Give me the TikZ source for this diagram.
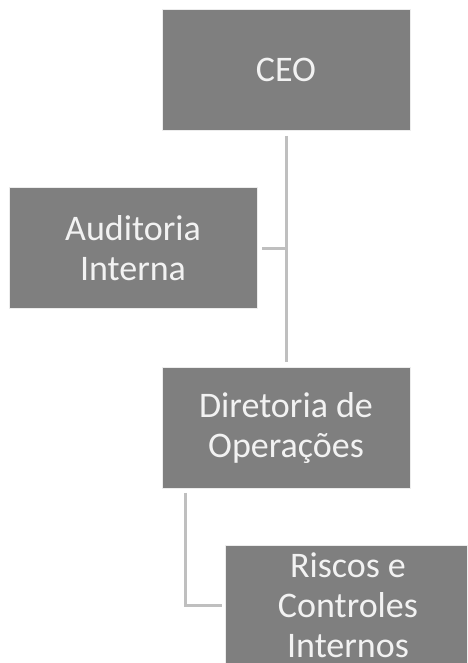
\documentclass[tikz,border=0pt]{standalone}
\usepackage{fontspec}
\setmainfont{Carlito}
\usepackage{tikz}
\usetikzlibrary{calc,positioning}
\definecolor{boxgray}{HTML}{7F7F7F}
\definecolor{linegray}{HTML}{BFBFBF}
\tikzstyle{post}=[rectangle, draw=white!85!boxgray, fill=boxgray,
                  line width=0.8pt, minimum width=248pt, minimum height=121pt,
                  inner sep=0pt, text=white!95!black, align=center,
                  font=\fontsize{36}{40}\selectfont]
\tikzstyle{link}=[draw=linegray, line width=3pt]
\begin{document}
\begin{tikzpicture}[x=1pt, y=-1pt]
    \clip (0,0) rectangle (467,663);
    \fill[white] (0,0) rectangle (467,663);

    \node[post] (ceo)   at (286,70)  {CEO};
    \node[post] (audit) at (133,248) {Auditoria\\Interna};
    \node[post] (dir)   at (286,428) {Diretoria de\\Operações};
    \node[post, minimum width=246pt, minimum height=120pt]
                (risk)  at (348,605) {Riscos e\\Controles\\Internos};

    \draw[link, shorten <=5pt, shorten >=5pt] (ceo) -- (dir);
    \draw[link, shorten <=5pt] (audit.east) -- (audit.east -| ceo.south);

    \coordinate (drop) at ([xshift=24pt]dir.south west);
    \draw[link, shorten <=4pt, shorten >=3pt] (drop) |- (risk.west);
\end{tikzpicture}
\end{document}
